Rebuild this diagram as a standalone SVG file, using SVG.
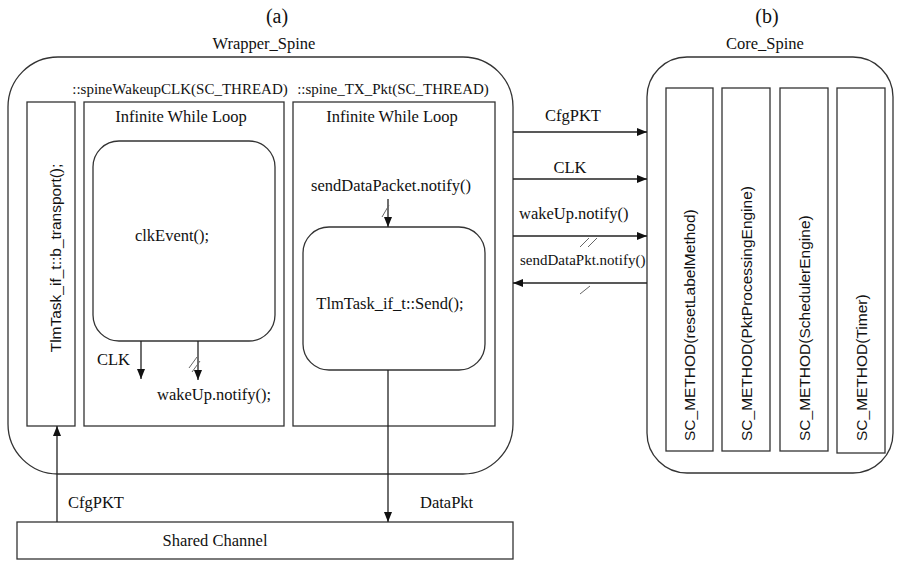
<svg xmlns="http://www.w3.org/2000/svg" width="897" height="561" viewBox="0 0 897 561">
<defs>
<style>
.b{fill:#fff;stroke:#333;stroke-width:1.3}
.l{fill:none;stroke:#222;stroke-width:1.3}
.t{font-family:"Liberation Serif",serif;font-size:16.5px;fill:#111}
.s{font-family:"Liberation Sans",sans-serif;font-size:15.5px;fill:#111}
.m{text-anchor:middle}
.h{stroke:#666;stroke-width:1}
</style>
<marker id="a" viewBox="0 0 10 10" refX="10" refY="5" markerWidth="10" markerHeight="10" markerUnits="userSpaceOnUse" orient="auto"><path d="M0,1 L10,5 L0,9 Z" fill="#111"/></marker>
</defs>
<rect width="897" height="561" fill="#fff"/>
<text class="t m" x="277" y="23" style="font-size:20px">(a)</text>
<text class="t m" x="767" y="23" style="font-size:20px">(b)</text>
<g id="wrapper">
<rect class="b" x="8" y="57" width="505" height="417" rx="50"/>
<text class="t m" x="264" y="49">Wrapper_Spine</text>
<text class="t m" x="180" y="94" style="font-size:15px">::spineWakeupCLK(SC_THREAD)</text>
<text class="t m" x="393" y="94" style="font-size:15px">::spine_TX_Pkt(SC_THREAD)</text>
</g>
<g id="btransport">
<rect class="b" x="27" y="102" width="48" height="324"/>
<text class="s m" transform="translate(61,258) rotate(-90)">TlmTask_if_t::b_transport();</text>
</g>
<g id="loop1">
<rect class="b" x="84" y="102" width="200" height="324"/>
<text class="t m" x="181" y="122">Infinite While Loop</text>
</g>
<g id="clkEvent">
<rect class="b" x="93" y="141" width="182" height="200" rx="26"/>
<text class="t m" x="172" y="241">clkEvent();</text>
</g>
<g id="loop2">
<rect class="b" x="293" y="102" width="202" height="324"/>
<text class="t m" x="392" y="122">Infinite While Loop</text>
</g>
<g id="send">
<rect class="b" x="303" y="227" width="182" height="143" rx="26"/>
<text class="t m" x="390" y="309">TlmTask_if_t::Send();</text>
</g>
<g id="core">
<rect class="b" x="647" y="57" width="246" height="416" rx="40"/>
<text class="t m" x="765" y="49">Core_Spine</text>
</g>
<g id="m1"><rect class="b" x="666" y="88" width="47" height="363"/><text class="s" transform="translate(695,441) rotate(-90)">SC_METHOD(resetLabelMethod)</text></g>
<g id="m2"><rect class="b" x="722" y="88" width="48" height="363"/><text class="s" transform="translate(752,441) rotate(-90)">SC_METHOD(PktProcessingEngine)</text></g>
<g id="m3"><rect class="b" x="780" y="88" width="48" height="363"/><text class="s" transform="translate(810,441) rotate(-90)">SC_METHOD(SchedulerEngine)</text></g>
<g id="m4"><rect class="b" x="837" y="88" width="48" height="365"/><text class="s" transform="translate(867,441) rotate(-90)">SC_METHOD(Timer)</text></g>
<g id="shared">
<rect class="b" x="17" y="522" width="496" height="37"/>
<text class="t m" x="215" y="546">Shared Channel</text>
</g>
<g id="connectors">
<line class="l" x1="141" y1="341" x2="141" y2="379" marker-end="url(#a)"/>
<text class="t" x="97" y="365">CLK</text>
<line class="l" x1="198" y1="341" x2="198" y2="380" marker-end="url(#a)"/>
<line class="h" x1="189" y1="368" x2="197" y2="357"/>
<line class="h" x1="192" y1="372" x2="200" y2="361"/>
<text class="t" x="157" y="400">wakeUp.notify();</text>
<text class="t m" x="391" y="191">sendDataPacket.notify()</text>
<line class="l" x1="388" y1="199" x2="388" y2="227" marker-end="url(#a)"/>
<line class="h" x1="382" y1="217" x2="389" y2="205"/>
<line class="l" x1="388" y1="370" x2="388" y2="522" marker-end="url(#a)"/>
<text class="t" x="420" y="508">DataPkt</text>
<line class="l" x1="57" y1="522" x2="57" y2="426" marker-end="url(#a)"/>
<text class="t" x="68" y="508">CfgPKT</text>
<line class="l" x1="513" y1="132" x2="647" y2="132" marker-end="url(#a)"/>
<text class="t m" x="573" y="121">CfgPKT</text>
<line class="l" x1="513" y1="179" x2="647" y2="179" marker-end="url(#a)"/>
<text class="t m" x="570" y="173">CLK</text>
<line class="l" x1="513" y1="236" x2="647" y2="236" marker-end="url(#a)"/>
<text class="t" x="519" y="219">wakeUp.notify()</text>
<text class="t" x="520" y="265" style="font-size:15px">sendDataPkt.notify()</text>
<line class="h" x1="580" y1="247" x2="589" y2="238"/>
<line class="h" x1="588" y1="247" x2="597" y2="238"/>
<line class="l" x1="647" y1="283" x2="513" y2="283" marker-end="url(#a)"/>
<line class="h" x1="580" y1="294" x2="590" y2="286"/>
</g>
</svg>
